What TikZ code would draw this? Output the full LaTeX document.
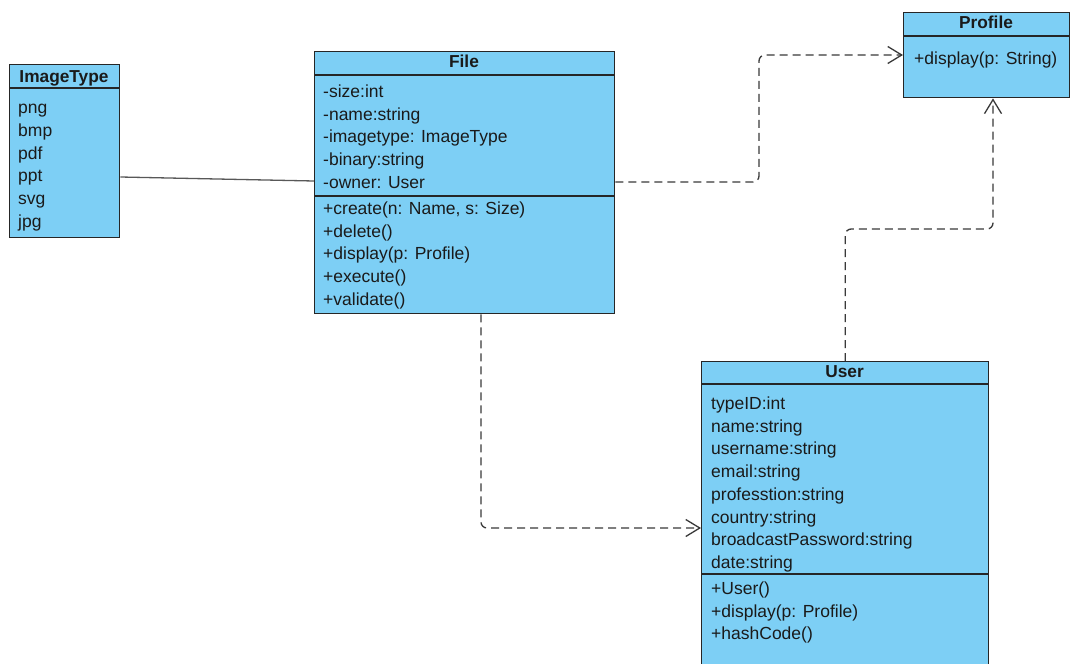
\documentclass[tikz,border=0pt]{standalone}
\usepackage{fontspec}
\setmainfont{Liberation Sans}
\usetikzlibrary{arrows.meta,calc}
\definecolor{umlfill}{HTML}{7DCFF5}
\definecolor{umlline}{HTML}{262626}
\definecolor{umltext}{HTML}{1A1A1A}
\definecolor{conn}{HTML}{3A3A3A}
\begin{document}
\begin{tikzpicture}[x=1pt,y=-1pt,
  classbox/.style={draw=umlline, fill=umlfill, line width=1.4pt, rectangle, inner sep=0pt, anchor=north west},
  head/.style={anchor=base, font=\fontsize{17.3}{19}\selectfont\bfseries, text=umltext, inner sep=0pt},
  row/.style={anchor=base west, font=\fontsize{17.5}{19}\selectfont, text=umltext, inner sep=0pt},
  divider/.style={draw=umlline, line width=1.4pt},
  dep/.style={draw=conn, line width=1.3pt, dash pattern=on 8pt off 5pt, rounded corners=6pt,
    -{Straight Barb[length=14pt,width=17pt,line width=1.3pt]}},
  assoc/.style={draw=conn!85, line width=1.3pt}]
\useasboundingbox (0,0) rectangle (1071,664);
\clip (0,0) rectangle (1071,664);
\fill[white] (0,0) rectangle (1071,664);

% ImageType
\node[classbox, minimum width=110pt, minimum height=173pt] (imagetype) at (9,64) {};
\draw[divider] ($(imagetype.north west)+(0,24)$) -- ($(imagetype.north east)+(0,24)$);
\node[head] (itT) at (64,82) {ImageType};
\node[row] (it1) at (18,113.5) {png};
\node[row] (it2) at (18,136.3) {bmp};
\node[row] (it3) at (18,159) {pdf};
\node[row] (it4) at (18,181.8) {ppt};
\node[row] (it5) at (18,204.6) {svg};
\node[row] (it6) at (18,227.4) {jpg};

% File
\node[classbox, minimum width=300pt, minimum height=262pt] (file) at (314,51) {};
\draw[divider] ($(file.north west)+(0,24)$) -- ($(file.north east)+(0,24)$);
\draw[divider] ($(file.north west)+(0,145)$) -- ($(file.north east)+(0,145)$);
\node[head] (fileT) at (464,67) {File};
\node[row] (f1) at (323,97.5) {-size:int};
\node[row] (f2) at (323,120.2) {-name:string};
\node[row] (f3) at (323,142.9) {-imagetype: ImageType};
\node[row] (f4) at (323,165.6) {-binary:string};
\node[row] (f5) at (323,188.3) {-owner: User};
\node[row] (f6) at (323,214.5) {+create(n: Name, s: Size)};
\node[row] (f7) at (323,237.2) {+delete()};
\node[row] (f8) at (323,259.9) {+display(p: Profile)};
\node[row] (f9) at (323,282.6) {+execute()};
\node[row] (f10) at (323,305.3) {+validate()};

% Profile
\node[classbox, minimum width=166pt, minimum height=85pt] (profile) at (903,12) {};
\draw[divider] ($(profile.north west)+(0,24)$) -- ($(profile.north east)+(0,24)$);
\node[head] (profT) at (986,28) {Profile};
\node[row] (p1) at (914,64.5) {+display(p: String)};

% User
\node[classbox, minimum width=287pt, minimum height=340pt] (user) at (701,361) {};
\draw[divider] ($(user.north west)+(0,23)$) -- ($(user.north east)+(0,23)$);
\draw[divider] ($(user.north west)+(0,213)$) -- ($(user.north east)+(0,213)$);
\node[head] (userT) at (844.5,377) {User};
\node[row] (u1) at (711,409.5) {typeID:int};
\node[row] (u2) at (711,432.2) {name:string};
\node[row] (u3) at (711,454.9) {username:string};
\node[row] (u4) at (711,477.6) {email:string};
\node[row] (u5) at (711,500.3) {professtion:string};
\node[row] (u6) at (711,523) {country:string};
\node[row] (u7) at (711,545.7) {broadcastPassword:string};
\node[row] (u8) at (711,568.4) {date:string};
\node[row] (u9) at (711,594.5) {+User()};
\node[row] (u10) at (711,617.2) {+display(p: Profile)};
\node[row] (u11) at (711,639.9) {+hashCode()};

% connectors
\draw[assoc] ($(imagetype.north east)+(0,113)$) -- ($(file.north west)+(0,130)$);

\coordinate (fileR) at ($(file.north east)+(0,131)$);
\coordinate (profL) at ($(profile.north west)+(0,43)$);
\coordinate (b1) at (759,0);
\draw[dep] (fileR) -- (fileR -| b1) -- (b1 |- profL) -- (profL);

\coordinate (profB) at ($(profile.south west)+(90,0)$);
\coordinate (b2) at (0,229);
\draw[dep] (user.north) -- (user.north |- b2) -- (b2 -| profB) -- (profB);

\coordinate (fileB) at ($(file.south west)+(167,0)$);
\coordinate (userL) at ($(user.north west)+(0,167)$);
\draw[dep] (fileB) -- (fileB |- userL) -- (userL);
\end{tikzpicture}
\end{document}
